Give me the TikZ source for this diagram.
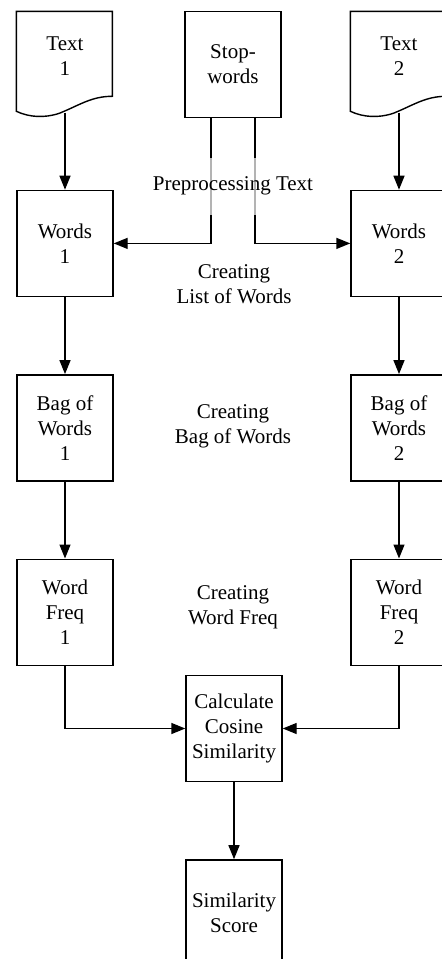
\documentclass[tikz,border=0pt]{standalone}
\usepackage{fontspec}
\setmainfont{Liberation Serif}
\usetikzlibrary{arrows.meta,positioning}

% outline of a text document, wavy at the bottom
\newcommand\docframe[1]{%
  \draw[-,shift={(#1.north west)}] (0,0) -- (0,100)
    .. controls (13,106) and (28,107) .. (43,102)
    .. controls (63,94) and (75,85) .. (96,85) -- (96,0) -- cycle;}

\begin{document}
\begin{tikzpicture}[->,>={Triangle[length=7pt,width=5.5pt]},x=0.5pt,y=-0.5pt,
  line width=0.7pt,node distance=38.5pt,
  every node/.style={font=\fontsize{10.5}{12.5}\selectfont,align=center},
  box/.style={rectangle,draw,minimum width=48pt,minimum height=53pt,inner sep=2pt},
  doc/.style={rectangle,minimum width=48pt,minimum height=44pt,inner sep=2pt},
  stage/.style={inner sep=1pt}]

  \useasboundingbox (0,0) rectangle (441,959);

  % top row: the two texts and the stop-word list
  \node[doc] (text1) at (65,56) {Text\\1};
  \node[doc] (text2) at (399,56) {Text\\2};
  \node[box] (stop) at (233,64.5) {Stop-\\words};
  \docframe{text1}
  \docframe{text2}
  \coordinate (t1end) at ([yshift=-6pt]text1.south);
  \coordinate (t2end) at ([yshift=-6pt]text2.south);

  % the two columns
  \node[box] (words1) [below=44.5pt of text1] {Words\\1};
  \node[box] (bag1) [below=of words1] {Bag of\\Words\\1};
  \node[box] (freq1) [below=of bag1] {Word\\Freq\\1};
  \node[box] (words2) [below=44.5pt of text2] {Words\\2};
  \node[box] (bag2) [below=of words2] {Bag of\\Words\\2};
  \node[box] (freq2) [below=of bag2] {Word\\Freq\\2};

  % comparing both
  \node[box] (cosine) at (234,728.5) {Calculate\\Cosine\\Similarity};
  \node[box] (score) [below=of cosine] {Similarity\\Score};

  \path
    (t1end) edge (words1)
    (words1) edge (bag1)
    (bag1) edge (freq1)
    (t2end) edge (words2)
    (words2) edge (bag2)
    (bag2) edge (freq2)
    (cosine) edge (score);

  \draw ([xshift=-11pt]stop.south) |- (words1.east);
  \draw ([xshift=11pt]stop.south) |- (words2.west);
  \draw (freq1.south) |- (cosine.west);
  \draw (freq2.south) |- (cosine.east);

  % stage labels
  \node[stage,fill=white,fill opacity=0.7,text opacity=1,minimum height=28.5pt] (prelbl) at (233,186) {Preprocessing Text};
  \node[stage] (listlbl) at (234,284) {Creating\\List of Words};
  \node[stage] (baglbl) at (233,426) {Creating\\Bag of Words};
  \node[stage] (freqlbl) at (233,607) {Creating\\Word Freq};
\end{tikzpicture}
\end{document}
